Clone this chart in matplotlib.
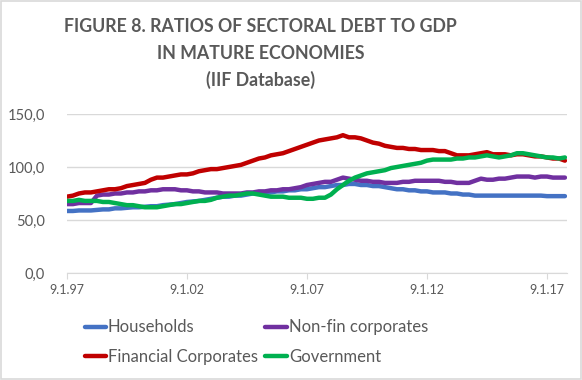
import matplotlib
matplotlib.use("Agg")
import matplotlib.pyplot as plt
import numpy as np
from matplotlib.patches import Rectangle

# Quarterly observations, 1997Q1 .. 2017Q4
start_year = 1997
households = [
    58.5, 58.5, 59, 59,  59, 59.5, 60, 60,  61, 61, 61.5, 62,  62, 62.5, 63, 63,
    64, 64.5, 65, 66,  67, 67.5, 68, 69,  70, 71, 72, 72,  73, 73, 74, 75,
    75, 76, 76, 77,  77, 78, 78, 79,  79, 80, 81, 81,  82, 83, 83, 84,
    84, 83, 83, 82,  82, 81, 80, 79,  79, 78, 78, 77,  77, 76, 76, 76,
    75, 75, 74, 74,  73, 73, 73, 73,  73, 73, 73, 73,  73, 73, 73, 73,
    72.5, 72.5, 72.5, 72.5,
]
nonfin = [
    65, 65, 66, 66,  66, 73, 74, 74,  75, 75, 76, 76,  77, 77, 78, 78,
    79, 79, 79, 78,  78, 77, 77, 76,  76, 76, 75, 75,  75, 75, 76, 76,
    77, 77, 78, 78,  79, 79, 80, 81,  83, 84, 85, 86,  86, 88, 90, 89,
    88, 87, 87, 86,  86, 85, 85, 85,  86, 86, 87, 87,  87, 87, 87, 86,
    86, 85, 85, 85,  87, 89, 88, 88,  89, 89, 90, 91,  91, 91, 90, 91,
    91, 90, 90, 90,
]
financial = [
    72, 73, 75, 76,  76, 77, 78, 79,  79, 80, 82, 83,  84, 85, 88, 90,
    90, 91, 92, 93,  93, 94, 96, 97,  98, 98, 99, 100,  101, 102, 104, 106,
    108, 109, 111, 112,  113, 115, 117, 119,  121, 123, 125, 126,  127, 128, 130, 128,
    128, 127, 125, 123,  122, 120, 119, 118,  118, 117, 117, 116,  116, 116, 115, 115,
    113, 111, 111, 111,  112, 113, 114, 112,  112, 112, 111, 112,  112, 111, 110, 110,
    109, 108, 108, 106,
]
government = [
    68, 68, 69, 68,  68, 68, 67, 67,  66, 65, 64, 64,  63, 62, 62, 62,
    63, 64, 65, 65,  66, 67, 68, 68,  69, 71, 72, 73,  73, 74, 75, 75,
    74, 73, 72, 72,  72, 71, 71, 71,  70, 70, 71, 71,  74, 79, 83, 87,
    90, 92, 94, 95,  96, 97, 99, 100,  101, 102, 103, 104,  106, 107, 107, 107,
    107, 108, 108, 109,  109, 110, 111, 110,  109, 110, 111, 113,  113, 112, 111, 110,
    109, 109, 108, 109,
]
tick_years = [1997, 2002, 2007, 2012, 2017]
tick_labels = ["9.1.97", "9.1.02", "9.1.07", "9.1.12", "9.1.17"]
y_ticks = [0, 50, 100, 150]
y_labels = ["0,0", "50,0", "100,0", "150,0"]

x = start_year + np.arange(len(households)) / 4.0

plt.rcParams['font.family'] = ['Lato', 'DejaVu Sans']
txt = '#595959'

fig = plt.figure(figsize=(5.82, 3.80), dpi=100)
ax = fig.add_axes([0.115, 0.2816, 0.859, 0.4184])

series = [
    ("Households", households, '#4472C4'),
    ("Non-fin corporates", nonfin, '#7030A0'),
    ("Financial Corporates", financial, '#C00000'),
    ("Government", government, '#00B050'),
]
handles = {}
for name, vals, col in series:
    h, = ax.plot(x, vals, color=col, lw=3.2, solid_capstyle='round', label=name)
    handles[name] = h

ax.set_xlim(1997, 2017.83)
ax.set_ylim(0, 150)
ax.set_yticks(y_ticks)
ax.set_yticklabels(y_labels)
ax.set_xticks(tick_years)
ax.set_xticklabels(tick_labels)
ax.grid(axis='y', color='#d9d9d9', lw=1)
ax.set_axisbelow(True)
for s in ['left', 'right', 'top']:
    ax.spines[s].set_visible(False)
ax.spines['bottom'].set_color('#d9d9d9')
ax.tick_params(axis='y', length=0, labelsize=10.5, colors=txt, pad=16)
ax.tick_params(axis='x', length=4, color='#d9d9d9', labelsize=9, colors=txt, pad=4)

tx = 0.448
fig.text(tx, 0.929, "FIGURE 8. RATIOS OF SECTORAL DEBT TO GDP", ha='center', va='center',
         fontsize=12.8, fontweight='bold', color=txt)
fig.text(tx, 0.860, "IN MATURE ECONOMIES", ha='center', va='center',
         fontsize=12.8, fontweight='bold', color=txt)
fig.text(tx, 0.789, "(IIF Database)", ha='center', va='center',
         fontsize=12.8, fontweight='bold', color=txt)

order = ["Households", "Financial Corporates", "Non-fin corporates", "Government"]
leg = fig.legend([handles[n] for n in order], order, ncol=2, loc='center',
                 bbox_to_anchor=(0.4405, 0.1), frameon=False, fontsize=12,
                 handlelength=1.3, handletextpad=0.1, columnspacing=0.45,
                 labelspacing=0.8, labelcolor=txt)

fig.patches.append(Rectangle((0.002, 0.002), 0.996, 0.996, transform=fig.transFigure,
                             fill=False, edgecolor='#d9d9d9', lw=1.2))

fig.savefig("out.png", dpi=100)
